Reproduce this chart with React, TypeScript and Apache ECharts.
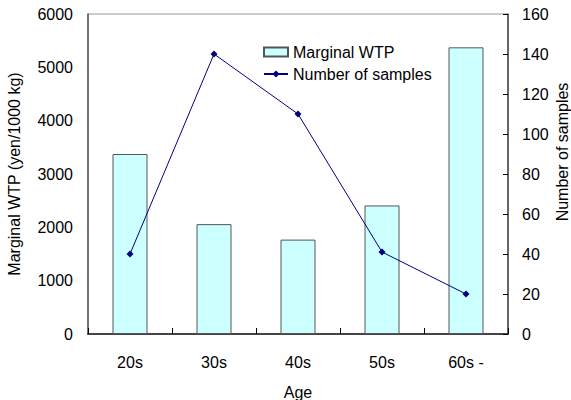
import React, { useEffect, useRef } from "react";
import * as echarts from "echarts";

const categories = ["20s", "30s", "40s", "50s", "60s -"];
const marginalWTP = [3375, 2060, 1770, 2410, 5375];
const sampleCounts = [40, 140, 110, 41, 20];

const FONT = "'Liberation Sans', Arial, sans-serif";
const FS = 16;

export default function App() {
  const ref = useRef<HTMLDivElement>(null);
  useEffect(() => {
    const chart = echarts.init(ref.current!, undefined, { renderer: "svg" });
    chart.setOption({
      animation: false,
      backgroundColor: "#ffffff",
      textStyle: { fontFamily: FONT },
      grid: {
        left: 88, right: 63, top: 14, bottom: 66,
        containLabel: false, outerBoundsMode: "none",
        show: true, borderColor: "#999999", borderWidth: 1,
      },
      legend: {
        orient: "vertical",
        left: 258,
        top: 39,
        itemWidth: 24,
        itemHeight: 9,
        itemGap: 6,
        textStyle: { fontSize: FS, color: "#000", fontFamily: FONT },
        data: [
          { name: "Marginal WTP", icon: "rect" },
          { name: "Number of samples" },
        ],
      },
      xAxis: {
        type: "category",
        data: categories,
        boundaryGap: true,
        name: "Age",
        nameLocation: "middle",
        nameGap: 50,
        nameTextStyle: { fontSize: FS, color: "#000", fontFamily: FONT },
        axisLine: { lineStyle: { color: "#444", width: 2 } },
        axisTick: { show: true, inside: true, length: 6, lineStyle: { color: "#000" } },
        axisLabel: { fontSize: FS, color: "#000", margin: 20, fontFamily: FONT },
        splitLine: { show: false },
      },
      yAxis: [
        {
          type: "value",
          min: 0,
          max: 6000,
          interval: 1000,
          name: "Marginal WTP (yen/1000 kg)",
          nameLocation: "middle",
          nameGap: 66,
          nameTextStyle: { fontSize: FS, color: "#000", fontFamily: FONT },
          axisLine: { show: true, lineStyle: { color: "#555", width: 1.5 } },
          axisTick: { show: false },
          axisLabel: { fontSize: FS, color: "#000", margin: 15, fontFamily: FONT, formatter: (v: number) => String(v) },
          splitLine: { show: false },
        },
        {
          type: "value",
          min: 0,
          max: 160,
          interval: 20,
          position: "right",
          axisLine: { show: true, lineStyle: { color: "#444", width: 1.5 } },
          axisTick: { show: true, inside: true, length: 5, lineStyle: { color: "#000" } },
          axisLabel: { fontSize: FS, color: "#000", margin: 14, fontFamily: FONT, formatter: (v: number) => String(v) },
          splitLine: { show: false },
        },
      ],
      graphic: [
        {
          type: "text",
          x: 562,
          y: 152,
          rotation: Math.PI / 2,
          style: {
            text: "Number of samples",
            fontSize: FS,
            fontFamily: FONT,
            fill: "#000",
            align: "center",
            verticalAlign: "middle",
          },
        },
      ],
      series: [
        {
          name: "Marginal WTP",
          type: "bar",
          data: marginalWTP,
          yAxisIndex: 0,
          barWidth: 35,
          itemStyle: { color: "#CCFFFF", borderColor: "#555555", borderWidth: 1 },
        },
        {
          name: "Number of samples",
          type: "line",
          data: sampleCounts,
          yAxisIndex: 1,
          symbol: "diamond",
          symbolSize: 7,
          lineStyle: { color: "#000080", width: 1 },
          itemStyle: { color: "#000080" },
        },
      ],
    });
    return () => chart.dispose();
  }, []);
  return <div ref={ref} style={{ position: "fixed", left: 0, top: 0, width: 571, height: 400 }} />;
}
